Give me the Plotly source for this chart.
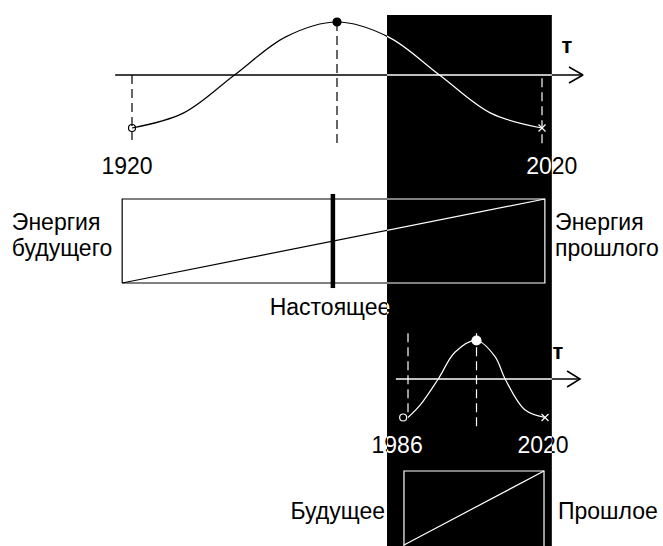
import plotly.graph_objects as go

# ---------------- data ----------------
# upper wave: one full period 1920 -> 2020, peak at the "present"
top_years = [1920, 1932.5, 1945, 1957.5, 1970, 1982.5, 1995, 2007.5, 2020]
top_wave = [-1.0, -0.72, 0.0, 0.72, 1.0, 0.72, 0.0, -0.72, -1.0]
top_start, top_peak, top_end = 1920, 1970, 2020
top_axis_years = [1915.9, 2030.0]
top_labels = ["1920", "2020"]
top_label_years = [1918.8, 2022.4]
top_label_level = -1.75
top_drop_from = [0.0, 1.0, -0.06]        # dashed verticals at start / peak / end
top_drop_to = [-1.28, -1.36, -1.32]
top_t_pos = (2026.1, 0.51)

# energy bar (0 = bottom edge, 1 = top edge)
bar_years = [1917.6, 2020.7]
past_energy = [0.0, 1.0]
present_year = 1969.0
present_span = [-0.06, 1.06]
bar_left_labels = ["Энергия", "будущего"]
bar_right_labels = ["Энергия", "прошлого"]
bar_label_levels = [0.70, 0.39]
bar_left_anchor, bar_right_anchor = 1890.7, 2023.2
present_label = "Настоящее"
present_label_pos = (1968.3, -0.31)

# dark period (black band)
dark_years = [1982.2, 2022.4]

# lower wave 1986 -> 2020
low_years = [1986, 1989, 1993.5, 1997.7, 2003, 2007.6, 2010.1, 2015, 2020]
low_wave = [-1.0, -0.68, 0.0, 0.70, 1.0, 0.58, 0.0, -0.80, -1.0]
low_start, low_peak, low_end = 1986, 2003, 2020
low_axis_years = [1983.0, 2028.7]
low_labels = ["1986", "2020"]
low_label_years = [1983.3, 2019.5]
low_label_level = -1.77
low_drop_from = [1.19, 1.19]
low_drop_to = [-0.99, -1.25]
low_t_pos = (2023.2, 0.675)

# lower bar
low_bar_years = [1985.0, 2019.75]
low_past = [0.0, 1.0]
low_bar_labels = ["Будущее", "Прошлое"]
low_bar_level = 0.43
low_bar_anchors = [1980.3, 2023.2]

# ---------------- geometry (layout only) ----------------
W, H = 663, 546
DARK_TOP = 15
FONT = "Liberation Sans, Arial, sans-serif"
FS = 23

def top_px(yr):
    return 132 + (yr - 1920) * 4.1

def low_px(yr):
    return 408 + (yr - 1986) * 4.03

def inv_x(fpx, px):
    # pixel -> data for an x mapping
    a = fpx(0.0)
    b = fpx(1.0) - a
    return (px - a) / b

# y mappings value -> pixel row
ymaps = {
    "top": (75, 53.0),
    "bar": (283, 84.0),
    "low": (379, 38.5),
    "lbar": (545, 74.0),
}

def inv_y(key, py):
    c, s = ymaps[key]
    return (c - py) / s

dark_px = [top_px(dark_years[0]), top_px(dark_years[1])]
dark_dom_x = [dark_px[0] / W, dark_px[1] / W]
dark_dom_y = [0.0, (H - DARK_TOP) / H]

fig = go.Figure()

# axes ids per section: (x_main, x_dark, y_main, y_dark)
sect = {
    "top": ("x", "x2", "y", "y2"),
    "bar": ("x", "x2", "y3", "y4"),
    "low": ("x3", "x4", "y5", "y6"),
    "lbar": ("x3", "x4", "y7", "y8"),
}
xfun = {"x": top_px, "x2": top_px, "x3": low_px, "x4": low_px}


def both(key, make):
    xm, xd, ym, yd = sect[key]
    fig.add_trace(make("black").update(xaxis=xm, yaxis=ym))
    fig.add_trace(make("white").update(xaxis=xd, yaxis=yd))


def line(xs, ys, width=1.2, dash=None, shape="linear"):
    def mk(c):
        return go.Scatter(x=xs, y=ys, mode="lines",
                          line=dict(color=c, width=width, dash=dash, shape=shape),
                          hoverinfo="skip", showlegend=False)
    return mk


def marks(xs, ys, symbol, size, filled=False, lw=1.2):
    def mk(c):
        return go.Scatter(x=xs, y=ys, mode="markers",
                          marker=dict(symbol=symbol, size=size, color=c,
                                      line=dict(color=c, width=lw)),
                          hoverinfo="skip", showlegend=False)
    return mk


def text(xs, ys, labels, pos="middle center", size=FS, bold=False):
    def mk(c):
        return go.Scatter(x=xs, y=ys, mode="text", text=labels, textposition=pos,
                          textfont=dict(family=FONT, size=size, color=c,
                                        weight="bold" if bold else "normal"),
                          hoverinfo="skip", showlegend=False)
    return mk


DASH = "9px,5px"

# ---- upper wave section ----
both("top", line(top_axis_years, [0, 0], width=1.3))
ax_end = top_axis_years[1]
wing_dx = 14 / 4.1
wing_dy = 8 / 53.0
both("top", line([ax_end - wing_dx, ax_end, ax_end - wing_dx], [wing_dy, 0, -wing_dy], width=1.5))
both("top", line(top_years, top_wave, width=1.2, shape="spline"))
for xv, y0, y1 in zip([top_start, top_peak, top_end], top_drop_from, top_drop_to):
    both("top", line([xv, xv], [y0, y1], width=1.2, dash=DASH))
both("top", marks([top_start], [top_wave[0]], "circle-open", 7))
both("top", marks([top_peak], [top_wave[4]], "circle", 8))
both("top", marks([top_end], [top_wave[-1]], "x-thin-open", 7))
both("top", text(top_label_years, [top_label_level] * 2, top_labels))
both("top", text([top_t_pos[0]], [top_t_pos[1]], ["т"], size=22, bold=True))

# ---- energy bar ----
bx0, bx1 = bar_years
both("bar", line([bx0, bx1, bx1, bx0, bx0], [0, 0, 1, 1, 0], width=1.2))
both("bar", line(bar_years, past_energy, width=1.2))
both("bar", line([present_year, present_year], present_span, width=4.5))
both("bar", text([bar_left_anchor] * 2, bar_label_levels, bar_left_labels, pos="middle right"))
both("bar", text([bar_right_anchor] * 2, bar_label_levels, bar_right_labels, pos="middle right"))
both("bar", text([present_label_pos[0]], [present_label_pos[1]], [present_label]))

# ---- lower wave ----
both("low", line(low_axis_years, [0, 0], width=1.3))
lend = low_axis_years[1]
lw_dx = 13 / 4.03
lw_dy = 8 / 38.5
both("low", line([lend - lw_dx, lend, lend - lw_dx], [lw_dy, 0, -lw_dy], width=1.5))
both("low", line(low_years, low_wave, width=1.2, shape="spline"))
for xv, y0, y1 in zip([low_start, low_peak], low_drop_from, low_drop_to):
    both("low", line([xv, xv], [y0, y1], width=1.2, dash=DASH))
both("low", marks([low_start - 1.2], [low_wave[0]], "circle-open", 7))
both("low", marks([low_peak], [low_wave[4]], "circle", 9))
both("low", marks([low_end], [low_wave[-1]], "x-thin-open", 7))
both("low", text(low_label_years, [low_label_level] * 2, low_labels))
both("low", text([low_t_pos[0]], [low_t_pos[1]], ["т"], size=22, bold=True))

# ---- lower bar ----
lx0, lx1 = low_bar_years
both("lbar", line([lx0, lx0, lx1, lx1], [-0.2, 1, 1, -0.2], width=1.2))
both("lbar", line(low_bar_years, low_past, width=1.2))
both("lbar", text([low_bar_anchors[0]], [low_bar_level], [low_bar_labels[0]], pos="middle left"))
both("lbar", text([low_bar_anchors[1]], [low_bar_level], [low_bar_labels[1]], pos="middle right"))

# ---------------- axes ----------------
def xax(fpx, dom_px, dom):
    return dict(domain=dom, range=[inv_x(fpx, dom_px[0]), inv_x(fpx, dom_px[1])],
                visible=False, fixedrange=True, showgrid=False, zeroline=False)

def yax(key, dom_py, dom, anchor):
    return dict(domain=dom, range=[inv_y(key, dom_py[0]), inv_y(key, dom_py[1])],
                visible=False, fixedrange=True, showgrid=False, zeroline=False,
                anchor=anchor)

full_px = [0, W]
dark_rows = [H, DARK_TOP]
full_rows = [H, 0]

layout = dict(
    width=W, height=H, autosize=False,
    margin=dict(l=0, r=0, t=0, b=0, pad=0),
    paper_bgcolor="white", plot_bgcolor="rgba(0,0,0,0)",
    showlegend=False,
    xaxis=dict(xax(top_px, full_px, [0, 1]), anchor="y"),
    xaxis2=dict(xax(top_px, dark_px, dark_dom_x), anchor="y2"),
    xaxis3=dict(xax(low_px, full_px, [0, 1]), anchor="y5"),
    xaxis4=dict(xax(low_px, dark_px, dark_dom_x), anchor="y6"),
    yaxis=yax("top", full_rows, [0, 1], "x"),
    yaxis2=yax("top", dark_rows, dark_dom_y, "x2"),
    yaxis3=yax("bar", full_rows, [0, 1], "x"),
    yaxis4=yax("bar", dark_rows, dark_dom_y, "x2"),
    yaxis5=yax("low", full_rows, [0, 1], "x3"),
    yaxis6=yax("low", dark_rows, dark_dom_y, "x4"),
    yaxis7=yax("lbar", full_rows, [0, 1], "x3"),
    yaxis8=yax("lbar", dark_rows, dark_dom_y, "x4"),
    shapes=[dict(type="rect", xref="paper", yref="paper",
                 x0=dark_dom_x[0], x1=dark_dom_x[1], y0=dark_dom_y[0], y1=dark_dom_y[1],
                 fillcolor="black", line=dict(width=0), layer="below")],
)
fig.update_layout(**layout)

fig.write_html("out.html", config={"displayModeBar": False, "staticPlot": True},
               post_script="document.body.style.margin='0';document.body.style.overflow='hidden';")
